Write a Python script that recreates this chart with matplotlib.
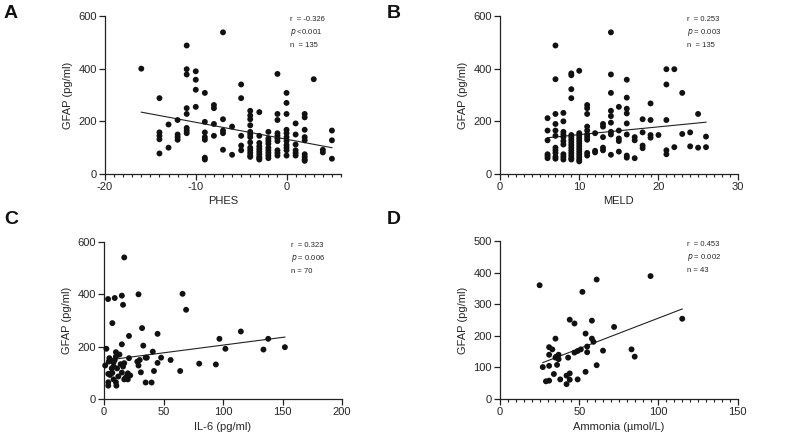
import matplotlib
matplotlib.use("Agg")
import matplotlib.pyplot as plt
from matplotlib.ticker import MultipleLocator
import numpy as np

plt.rcParams['font.family'] = ['Liberation Sans', 'DejaVu Sans']
plt.rcParams['axes.unicode_minus'] = False

# ---------------- Panel A: PHES vs GFAP ----------------
phes_x = ([-16] + [-14]*5 + [-13]*2 + [-12]*4 + [-11]*8 + [-10]*4 + [-9]*7 + [-8]*4 +
          [-7]*5 + [-6]*2 + [-5]*5 + [-4]*13 + [-3]*10 + [-2]*9 + [-1]*10 + [0]*11 +
          [1]*6 + [2]*9 + [3] + [4]*2 + [5]*3)
phes_y = ([400] + [288, 158, 145, 132, 78] + [188, 100] + [205, 150, 140, 130] +
          [488, 398, 378, 250, 228, 175, 165, 155] + [390, 358, 320, 255] +
          [308, 198, 158, 140, 130, 62, 55] + [262, 250, 190, 145] +
          [538, 208, 165, 155, 92] + [180, 73] + [340, 288, 145, 108, 90] +
          [240, 222, 208, 185, 160, 150, 140, 120, 100, 90, 80, 70, 65] +
          [235, 145, 118, 105, 95, 85, 75, 65, 60, 55] +
          [160, 135, 125, 115, 100, 90, 80, 70, 60] +
          [380, 228, 205, 155, 145, 135, 125, 90, 80, 70] +
          [308, 270, 228, 168, 155, 140, 125, 110, 100, 90, 70] +
          [192, 150, 112, 90, 80, 70] +
          [228, 215, 168, 140, 128, 75, 65, 55, 50] + [360] + [92, 82] + [165, 128, 58])
fit_A = (-6.43, 132.0)   # slope, intercept
range_A = (-16, 5)
stats_A = ["r  = -0.326", "<0.001", "n  = 135"]

# ---------------- Panel B: MELD vs GFAP ----------------
meld_x = ([6]*6 + [7]*11 + [8]*10 + [9]*15 + [10]*13 + [11]*10 + [12]*3 + [13]*5 +
          [14]*9 + [15]*5 + [16]*8 + [17]*3 + [18]*4 + [19]*4 + [20] + [21]*5 +
          [22]*2 + [23]*2 + [24]*2 + [25]*2 + [26]*2)
meld_y = ([212, 165, 128, 75, 68, 60] +
          [488, 360, 228, 190, 165, 145, 100, 90, 80, 65, 58] +
          [232, 200, 160, 150, 140, 125, 112, 75, 65, 55] +
          [382, 375, 322, 288, 148, 140, 130, 120, 110, 100, 90, 80, 70, 60, 55] +
          [392, 155, 145, 135, 125, 115, 105, 95, 85, 75, 65, 55, 48] +
          [262, 250, 228, 180, 165, 150, 140, 130, 80, 70] +
          [155, 88, 82] + [190, 180, 140, 100, 90] +
          [538, 378, 308, 240, 220, 195, 160, 150, 73] +
          [255, 165, 135, 125, 85] +
          [358, 290, 248, 230, 192, 150, 70, 62] +
          [140, 128, 60] + [208, 158, 108, 98] + [268, 205, 148, 138] + [148] +
          [398, 340, 205, 90, 75] + [398, 102] + [308, 152] + [158, 105] +
          [228, 100] + [142, 102])
fit_B = (2.95, 120.0)
range_B = (6, 26)
stats_B = ["r  = 0.253", "= 0.003", "n  = 135"]

# ---------------- Panel C: IL-6 vs GFAP ----------------
il6_x = [2, 1, 3.4, 9, 15, 16, 17, 7, 29, 66, 69, 21, 32, 45, 33, 41, 15, 115, 97, 138,
         102, 152, 134, 80, 94, 64, 56, 48, 35, 36, 45, 42, 31, 29, 28, 30, 35, 40, 21,
         20, 19, 20, 17, 15, 16, 17, 14, 10, 10, 9, 8, 8, 4.5, 4, 3.6, 5, 6, 3.6, 3.6,
         8, 10, 10.4, 11, 6.5, 12, 5, 13, 18, 22, 7]
il6_y = [192, 128, 382, 386, 395, 360, 541, 290, 400, 402, 341, 241, 271, 249, 204, 181,
         209, 258, 230, 230, 192, 198, 189, 135, 132, 107, 149, 158, 158, 158, 138, 107,
         102, 128, 143, 149, 63, 63, 156, 98, 86, 75, 75, 101, 124, 137, 133, 179, 162,
         149, 124, 140, 156, 143, 96, 92, 98, 64, 51, 75, 64, 51, 117, 117, 86, 150, 170,
         80, 90, 100]
fit_C = (0.59, 147.0)
range_C = (5, 152)
stats_C = ["r  = 0.323", "= 0.006", "n = 70"]

# ---------------- Panel D: Ammonia vs GFAP ----------------
nh3_x = [25, 95, 61, 52, 44, 47, 58, 72, 54, 115, 35, 58, 59, 31, 33, 31, 37, 35, 37,
         43, 47, 49, 51, 55, 55, 65, 83, 85, 27, 31, 36, 61, 34, 29, 31, 38, 42, 44,
         42, 44, 49, 54, 35.5]
nh3_y = [360, 389, 378, 339, 251, 239, 248, 228, 207, 254, 191, 191, 181, 164, 157, 140,
         140, 131, 126, 131, 147, 152, 157, 166, 148, 153, 157, 134, 101, 105, 108, 107,
         79, 56, 58, 62, 74, 81, 47, 61, 62, 86, 134]
fit_D = (1.93, 63.0)
range_D = (27, 115)
stats_D = ["r  = 0.453", "= 0.002", "n = 43"]

TEXT = '#262626'

fig = plt.figure(figsize=(7.87, 4.42), dpi=100)

def make_panel(rect, x, y, fit, frange, stats, xlim, xmajor, xminor, ylim, ymajor,
               xlabel, letter, letter_pos):
    ax = fig.add_axes(rect)
    ax.scatter(x, y, s=18, color='#111111', edgecolors='none', zorder=3, clip_on=False)
    xs = np.array(frange, dtype=float)
    ax.plot(xs, fit[0] * xs + fit[1], color='#222222', lw=0.8, zorder=2)
    ax.set_xlim(*xlim)
    ax.set_ylim(*ylim)
    ax.xaxis.set_major_locator(MultipleLocator(xmajor))
    if xminor:
        ax.xaxis.set_minor_locator(MultipleLocator(xminor))
    ax.yaxis.set_major_locator(MultipleLocator(ymajor))
    for s in ['top', 'right']:
        ax.spines[s].set_visible(False)
    for s in ['left', 'bottom']:
        ax.spines[s].set_linewidth(0.9)
        ax.spines[s].set_color('#222222')
    ax.tick_params(axis='both', which='major', length=4, width=0.9, colors='#222222',
                   labelsize=8, labelcolor=TEXT, pad=2)
    ax.tick_params(axis='x', which='minor', length=2.5, width=0.8, colors='#222222')
    ax.set_xlabel(xlabel, fontsize=8, color=TEXT, labelpad=3)
    ax.set_ylabel('GFAP (pg/ml)', fontsize=8, color=TEXT, labelpad=4)
    tx = 0.785
    ax.text(tx, 0.975, stats[0], transform=ax.transAxes, fontsize=5.5, color=TEXT, va='center')
    ax.text(tx, 0.895, '$\\it{p}$ ' + stats[1], transform=ax.transAxes, fontsize=5.5,
            color=TEXT, va='center')
    ax.text(tx, 0.815, stats[2], transform=ax.transAxes, fontsize=5.5, color=TEXT, va='center')
    fig.text(letter_pos[0], letter_pos[1], letter, fontsize=14, fontweight='bold',
             color='#111111', ha='left', va='top')
    return ax

make_panel([105/787, 1-174/442, 236/787, 158/442], phes_x, phes_y, fit_A, range_A, stats_A,
           (-20, 6), 10, 1, (0, 600), 200, 'PHES', 'A', (4/787, 1-5/442))
make_panel([500/787, 1-174/442, 237.7/787, 158/442], meld_x, meld_y, fit_B, range_B, stats_B,
           (0, 30), 10, 1, (0, 600), 200, 'MELD', 'B', (387/787, 1-5/442))
make_panel([104/787, 1-399/442, 238/787, 157/442], il6_x, il6_y, fit_C, range_C, stats_C,
           (0, 200), 50, None, (0, 600), 200, 'IL-6 (pg/ml)', 'C', (4/787, 1-211/442))
make_panel([500/787, 1-399/442, 237.7/787, 158/442], nh3_x, nh3_y, fit_D, range_D, stats_D,
           (0, 150), 50, 5, (0, 500), 100, 'Ammonia (\u00b5mol/L)', 'D', (387/787, 1-211/442))

fig.savefig('out.png', dpi=100)
